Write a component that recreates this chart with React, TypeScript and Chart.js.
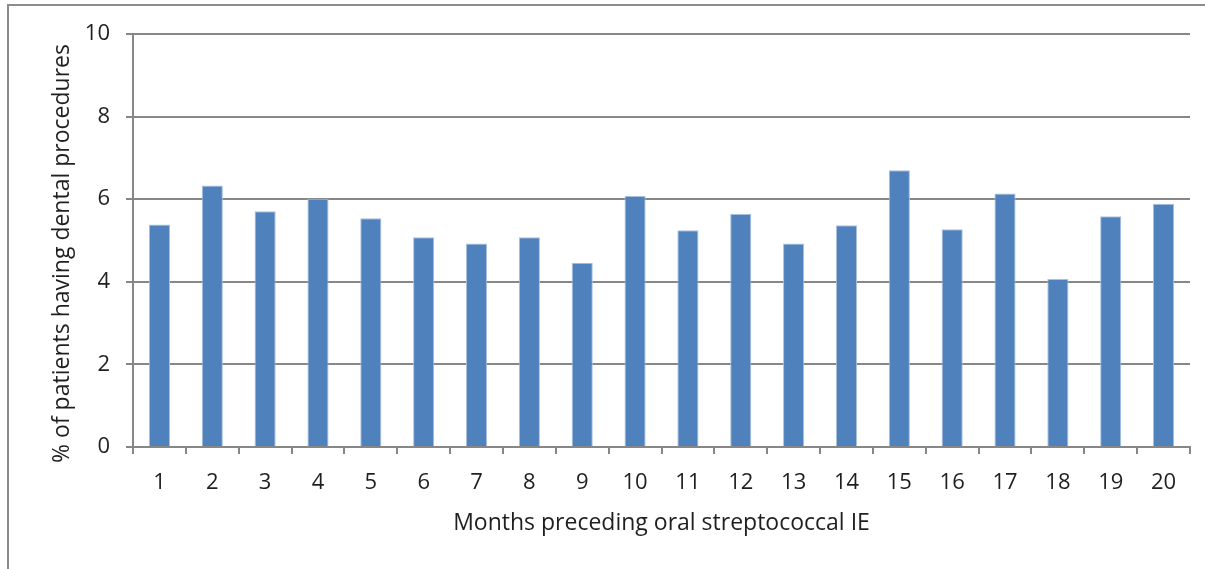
import React, { useEffect, useRef } from "react";
import { Chart, registerables } from "chart.js";

Chart.register(...registerables);

const months: string[] = ["1", "2", "3", "4", "5", "6", "7", "8", "9", "10", "11", "12", "13", "14", "15", "16", "17", "18", "19", "20"];
const percentValues: number[] = [5.39, 6.33, 5.71, 6.01, 5.54, 5.08, 4.93, 5.08, 4.46, 6.08, 5.25, 5.64, 4.93, 5.37, 6.7, 5.27, 6.14, 4.07, 5.59, 5.89];
const yTickValues: number[] = [0, 2, 4, 6, 8, 10];
const xTitle = "Months preceding oral streptococcal IE";
const yTitle = "% of patients having dental procedures";

const W = 1205;
const H = 569;
const FONT = "'Open Sans', 'Liberation Sans', sans-serif";
const GRID = "#878787";
const TEXT = "#1f1f1f";
const TICK_FS = 22;
const TITLE_FS = 23;

const yTitlePlugin = {
  id: "yTitlePlugin",
  afterDraw(chart: any) {
    const { ctx, chartArea } = chart;
    ctx.save();
    ctx.font = `${TITLE_FS}px ${FONT}`;
    ctx.fillStyle = TEXT;
    ctx.textAlign = "center";
    ctx.textBaseline = "middle";
    ctx.translate(62, (chartArea.top + chartArea.bottom) / 2 + 13);
    ctx.rotate(-Math.PI / 2);
    ctx.fillText(yTitle, 0, 0);
    ctx.restore();
  },
};

export default function App() {
  const canvasRef = useRef<HTMLCanvasElement | null>(null);

  useEffect(() => {
    document.body.style.margin = "0";
    const canvas = canvasRef.current;
    if (!canvas) return;
    const chart = new Chart(canvas, {
      type: "bar",
      data: {
        labels: months,
        datasets: [
          {
            data: percentValues,
            backgroundColor: "#4f81bd",
            borderColor: "#a9c1e0",
            borderWidth: 1,
            barPercentage: 0.4,
            categoryPercentage: 1,
          },
        ],
      },
      options: {
        responsive: false,
        animation: false,
        devicePixelRatio: 1,
        layout: { padding: { left: 44, right: 15, top: 34, bottom: 28 } },
        plugins: { legend: { display: false }, tooltip: { enabled: false } },
        scales: {
          x: {
            offset: true,
            grid: {
              offset: true,
              drawOnChartArea: false,
              drawTicks: true,
              tickLength: 7,
              color: GRID,
              lineWidth: 2,
            },
            border: { display: true, color: GRID, width: 2 },
            ticks: {
              color: TEXT,
              font: { family: FONT, size: TICK_FS },
              padding: 16,
              maxRotation: 0,
            },
            title: {
              display: true,
              text: xTitle,
              color: TEXT,
              font: { family: FONT, size: TITLE_FS },
              padding: { top: 4, bottom: 4 },
            },
            afterFit: (scale: any) => {
              scale.height = 94;
            },
          },
          y: {
            min: 0,
            max: 10,
            afterBuildTicks: (scale: any) => {
              scale.ticks = yTickValues.map((v) => ({ value: v }));
            },
            grid: {
              color: GRID,
              lineWidth: 2,
              drawTicks: true,
              tickLength: 7,
            },
            border: { display: true, color: GRID, width: 2 },
            ticks: {
              color: TEXT,
              font: { family: FONT, size: TICK_FS },
              padding: 16,
            },
            title: { display: false },
            afterFit: (scale: any) => {
              scale.width = 89;
            },
          },
        },
      },
      plugins: [yTitlePlugin],
    });
    return () => chart.destroy();
  }, []);

  return (
    <div style={{ position: "relative", width: W, height: H, overflow: "hidden", background: "#fff" }}>
      <div
        style={{
          position: "absolute",
          left: 7,
          top: 4,
          width: W + 100,
          height: H + 100,
          border: "2px solid #8c8c8c",
          boxSizing: "border-box",
        }}
      />
      <canvas ref={canvasRef} width={W} height={H} style={{ position: "absolute", left: 0, top: 0, width: W, height: H }} />
    </div>
  );
}
